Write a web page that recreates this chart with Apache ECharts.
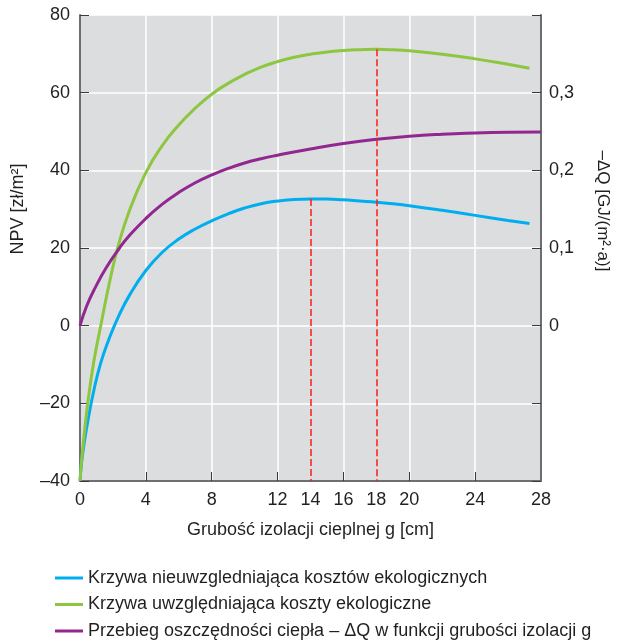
<!DOCTYPE html>
<html>
<head>
<meta charset="utf-8">
<script src="https://cdn.jsdelivr.net/npm/echarts@6/dist/echarts.min.js"></script>
<style>
html,body{margin:0;padding:0;background:#fff;}
#chart{width:617px;height:641px;}
</style>
</head>
<body>
<div id="chart"></div>
<script>
// Thickness of insulation g [cm] (shared x samples for NPV curves)
const npvX = [0, 0.08, 0.18, 0.28, 0.5, 0.85, 1.26, 1.75, 2.3, 3, 4, 5, 6, 7, 8, 9, 10, 11, 12, 13, 14, 15, 16, 17, 18, 19, 20, 22, 24, 26, 27.3];
// NPV [zł/m²] - curve without ecological costs (blue)
const npvNoEco = [-40, -36, -32.5, -29.5, -24, -16.5, -9.6, -3.6, 2.0, 7.8, 14.2, 18.9, 22.3, 24.9, 27.0, 28.8, 30.3, 31.4, 32.1, 32.5, 32.6, 32.6, 32.4, 32.1, 31.8, 31.4, 30.9, 29.7, 28.4, 27.1, 26.3];
// NPV [zł/m²] - curve with ecological costs (green)
const npvEco = [-40, -35.5, -31, -27, -19, -9, 0, 10.3, 20.2, 29.6, 39.4, 46.4, 51.7, 56.0, 59.6, 62.4, 64.7, 66.6, 68.0, 69.1, 69.9, 70.5, 70.85, 71.05, 71.15, 71.05, 70.8, 69.9, 68.7, 67.3, 66.3];
// Heat saving -ΔQ [GJ/(m²·a)] (purple)
const dqX = [0, 0.4, 0.95, 1.6, 2.4, 3, 4, 5, 6, 7, 8, 9, 10, 11, 12, 14, 16, 18, 20, 22, 24, 26, 28];
const dqVal = [0, 0.025, 0.05, 0.075, 0.1, 0.116, 0.138, 0.1565, 0.1715, 0.184, 0.194, 0.2025, 0.2095, 0.215, 0.2195, 0.2275, 0.2345, 0.24, 0.244, 0.2465, 0.248, 0.249, 0.2495];
// Optima marked with dashed lines
const optNoEco = [14, 32.6];
const optEco = [18, 71.15];
// Tick labels
const xLabelValues = [0, 4, 8, 12, 14, 16, 18, 20, 24, 28];
const xTickValues = [4, 8, 12, 16, 20, 24];
const seriesNames = [
  'Krzywa nieuwzgledniająca kosztów ekologicznych',
  'Krzywa uwzględniająca koszty ekologiczne',
  'Przebieg oszczędności ciepła – ΔQ w funkcji grubości izolacji g'
];

const FONT = '"Liberation Sans", Arial, sans-serif';
const TXT = '#231f20';
const AXIS = '#6d6e71';

const pairs = (xs, ys) => xs.map((x, i) => [x, ys[i]]);

const chart = echarts.init(document.getElementById('chart'), null, {renderer: 'canvas'});
chart.setOption({
  animation: false,
  backgroundColor: '#ffffff',
  textStyle: {fontFamily: FONT},
  grid: {left: 80, right: 76, top: 15, bottom: 160, show: true, backgroundColor: '#dcdddf', borderWidth: 0},
  xAxis: {
    type: 'value', min: 0, max: 28, interval: 4,
    name: 'Grubość izolacji cieplnej g [cm]',
    nameLocation: 'middle', nameGap: 40,
    nameTextStyle: {fontSize: 18, color: TXT, fontFamily: FONT},
    axisLine: {onZero: false, lineStyle: {color: AXIS, width: 2}},
    axisTick: {show: true, inside: true, length: 9, customValues: xTickValues, lineStyle: {color: '#3a3a3c', width: 1}},
    axisLabel: {customValues: xLabelValues, fontSize: 18, color: TXT, margin: 10, fontFamily: FONT},
    splitLine: {show: true, lineStyle: {color: '#ffffff', width: 1.5}}
  },
  yAxis: [{
    type: 'value', min: -40, max: 80, interval: 20,
    axisLine: {show: true, onZero: false, lineStyle: {color: AXIS, width: 2}},
    axisTick: {show: true, inside: true, length: 9, lineStyle: {color: '#3a3a3c', width: 1}},
    axisLabel: {fontSize: 18, color: TXT, margin: 10, fontFamily: FONT,
      formatter: v => String(v).replace('-', '–')},
    splitLine: {show: true, lineStyle: {color: '#ffffff', width: 1.5}}
  }, {
    type: 'value', min: -0.2, max: 0.4, interval: 0.1, position: 'right',
    axisLine: {show: true, onZero: false, lineStyle: {color: AXIS, width: 2}},
    axisTick: {show: true, inside: true, length: 9, lineStyle: {color: '#3a3a3c', width: 1}},
    axisLabel: {fontSize: 18, color: TXT, margin: 8, fontFamily: FONT,
      formatter: v => {
        const r = Math.round(v * 10) / 10;
        if (r < 0 || r > 0.3) return '';
        return r === 0 ? '0' : r.toFixed(1).replace('.', ',');
      }},
    splitLine: {show: false}
  }],
  legend: {
    orient: 'vertical', left: 50, top: 564, height: 100, itemGap: 8.5,
    icon: 'rect', itemWidth: 28, itemHeight: 3,
    textStyle: {fontSize: 18, color: TXT, fontFamily: FONT, lineHeight: 18},
    data: seriesNames
  },
  graphic: [
    {type: 'text', x: 18, y: 209, rotation: Math.PI / 2,
      style: {text: 'NPV [zł/m²]', fontSize: 18, fontFamily: FONT, fill: TXT, align: 'center', verticalAlign: 'middle'}},
    {type: 'text', x: 603, y: 211, rotation: -Math.PI / 2,
      style: {text: '–ΔQ [GJ/(m²·a)]', fontSize: 17, fontFamily: FONT, fill: TXT, align: 'center', verticalAlign: 'middle'}}
  ],
  series: [{
    name: seriesNames[0], type: 'line', yAxisIndex: 0,
    data: pairs(npvX, npvNoEco), smooth: 0.5, showSymbol: false,
    lineStyle: {color: '#00aeef', width: 3}, itemStyle: {color: '#00aeef'}, z: 3,
    markLine: {silent: true, symbol: 'none', label: {show: false},
      lineStyle: {color: '#ff1a1a', type: [7, 3], width: 1.5},
      data: [[{coord: optNoEco}, {coord: [optNoEco[0], -40]}]]}
  }, {
    name: seriesNames[1], type: 'line', yAxisIndex: 0,
    data: pairs(npvX, npvEco), smooth: 0.5, showSymbol: false,
    lineStyle: {color: '#8dc63f', width: 3}, itemStyle: {color: '#8dc63f'}, z: 3,
    markLine: {silent: true, symbol: 'none', label: {show: false},
      lineStyle: {color: '#ff1a1a', type: [7, 3], width: 1.5},
      data: [[{coord: optEco}, {coord: [optEco[0], -40]}]]}
  }, {
    name: seriesNames[2], type: 'line', yAxisIndex: 1,
    data: pairs(dqX, dqVal), smooth: 0.5, showSymbol: false,
    lineStyle: {color: '#92278f', width: 3}, itemStyle: {color: '#92278f'}, z: 3
  }]
});
</script>
</body>
</html>
